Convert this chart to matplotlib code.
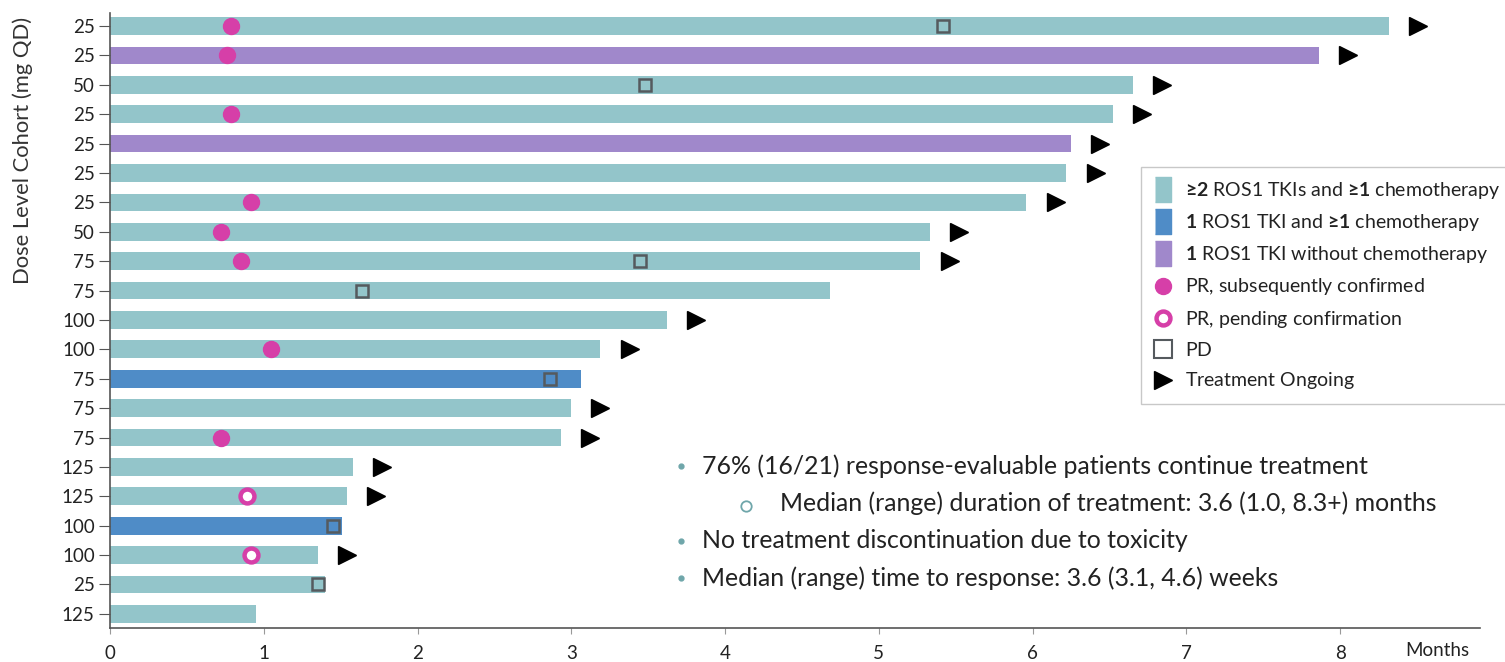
import matplotlib
matplotlib.use("Agg")
import matplotlib.pyplot as plt
from matplotlib.lines import Line2D
import numpy as np

plt.rcParams['font.family'] = ['Lato', 'DejaVu Sans']
plt.rcParams['mathtext.fontset'] = 'custom'
plt.rcParams['mathtext.rm'] = 'Lato'
plt.rcParams['mathtext.bf'] = 'Lato:bold'

# ---- data (top to bottom) ----
dose_labels = ["25", "25", "50", "25", "25", "25", "25", "50", "75", "75", "100",
               "100", "75", "75", "75", "125", "125", "100", "100", "25", "125"]
duration = [8.32, 7.86, 6.65, 6.52, 6.25, 6.22, 5.96, 5.33, 5.27, 4.68, 3.62,
            3.19, 3.06, 3.00, 2.93, 1.58, 1.54, 1.51, 1.35, 1.40, 0.95]
# group: 0 = >=2 TKIs & >=1 chemo, 1 = 1 TKI & >=1 chemo, 2 = 1 TKI without chemo
group = [0, 2, 0, 0, 2, 0, 0, 0, 0, 0, 0, 0, 1, 0, 0, 0, 0, 1, 0, 0, 0]
ongoing = [1, 1, 1, 1, 1, 1, 1, 1, 1, 0, 1, 1, 0, 1, 1, 1, 1, 0, 1, 0, 0]
pr_confirmed = [0.79, 0.76, None, 0.79, None, None, 0.92, 0.72, 0.85, None, None,
                1.05, None, None, 0.72, None, None, None, None, None, None]
pr_pending = [None] * 16 + [0.89, None, 0.92, None, None]
pd_time = [5.42, None, 3.48, None, None, None, None, None, 3.45, 1.64, None,
           None, 2.86, None, None, None, None, 1.45, None, 1.35, None]

group_colors = ["#93C5CA", "#4F8CC7", "#A088CB"]
group_names = [r"$\mathbf{≥2}$ ROS1 TKIs and $\mathbf{≥1}$ chemotherapy",
               r"$\mathbf{1}$ ROS1 TKI and $\mathbf{≥1}$ chemotherapy",
               r"$\mathbf{1}$ ROS1 TKI without chemotherapy"]
marker_names = [r"$\mathrm{PR}$, subsequently confirmed",
                r"$\mathrm{PR}$, pending confirmation",
                r"$\mathrm{PD}$",
                r"$\mathrm{Treatment}$ Ongoing"]
magenta = "#D63FA8"
pd_edge = "#555A5E"

fig = plt.figure(figsize=(15.05, 6.62), dpi=100)
ax = fig.add_axes([110 / 1505, 34 / 662, 1370 / 1505, 615 / 662])

y = np.arange(len(duration))
ax.barh(y, duration, height=0.6, color=[group_colors[g] for g in group], zorder=1)

arrow_gap = 0.19
for i in range(len(duration)):
    if pr_confirmed[i] is not None:
        ax.plot(pr_confirmed[i], i, 'o', ms=11.5, color=magenta, mec=magenta, zorder=3)
    if pr_pending[i] is not None:
        ax.plot(pr_pending[i], i, 'o', ms=10, mfc='white', mec=magenta, mew=3.2, zorder=3)
    if pd_time[i] is not None:
        ax.plot(pd_time[i], i, 's', ms=9, mfc='none', mec=pd_edge, mew=1.8, zorder=3)
    if ongoing[i]:
        ax.plot(duration[i] + arrow_gap, i, '>', ms=13, color='black', zorder=3)

ax.set_xlim(0, 8.91)
ax.set_ylim(20.48, -0.44)
ax.set_yticks(y)
ax.set_yticklabels(dose_labels, fontsize=13.5)
ax.set_xticks(range(0, 9))
ax.set_xticklabels([str(v) for v in range(0, 9)], fontsize=13.5)
for s in ['top', 'right']:
    ax.spines[s].set_visible(False)
for s in ['left', 'bottom']:
    ax.spines[s].set_color('#555555')
    ax.spines[s].set_linewidth(1.2)
ax.tick_params(axis='y', length=8, color='#555555', pad=3, labelcolor='#222222')
ax.tick_params(axis='x', length=4, color='#999999', pad=8, labelcolor='#222222')
ax.set_ylabel("Dose Level Cohort (mg QD)", fontsize=15.8, color='#333333')
ax.yaxis.set_label_coords(-0.0562, 0.777)

fig.text(1405 / 1505, 1 - 651 / 662, "Months", fontsize=13.5, va='center', ha='left', color='#222222')

# legend
bar_marker = [(-0.32, -0.5), (0.32, -0.5), (0.32, 0.5), (-0.32, 0.5)]
handles = [Line2D([], [], ls='none', marker=bar_marker, ms=18, color=c, mec=c)
           for c in group_colors]
handles += [
    Line2D([], [], ls='none', marker='o', ms=11.5, color=magenta),
    Line2D([], [], ls='none', marker='o', ms=10, mfc='white', mec=magenta, mew=3.2),
    Line2D([], [], ls='none', marker='s', ms=13, mfc='none', mec=pd_edge, mew=1.5),
    Line2D([], [], ls='none', marker='>', ms=13, color='black'),
]
labels = group_names + marker_names
leg = fig.legend(handles, labels, loc='upper left',
                 bbox_to_anchor=(1141 / 1505, 1 - 167 / 662), fontsize=14,
                 frameon=True, fancybox=False, edgecolor='#BBBBBB',
                 handlelength=1.0, handletextpad=0.6, labelspacing=0.58,
                 borderpad=0.65, borderaxespad=0)
leg.get_frame().set_linewidth(1.0)
for t in leg.get_texts():
    t.set_color('#222222')

# annotation text
bullet_color = "#6FA6AA"
txt = '#222222'
fs = 17.9
bx, tx = 681 / 1505, 702 / 1505
rows = [466, 541, 578]
lines = ["76% (16/21) response-evaluable patients continue treatment",
         "No treatment discontinuation due to toxicity",
         "Median (range) time to response: 3.6 (3.1, 4.6) weeks"]
for r, s in zip(rows, lines):
    fig.add_artist(Line2D([bx], [1 - r / 662], ls='none', marker='o', ms=3.5,
                          color=bullet_color, transform=fig.transFigure))
    fig.text(tx, 1 - r / 662, s, fontsize=fs, color=txt, va='center')
fig.add_artist(Line2D([746 / 1505], [1 - 506 / 662], ls='none', marker='o', ms=7.5,
                      mfc='none', mec=bullet_color, mew=1.3, transform=fig.transFigure))
fig.text(780 / 1505, 1 - 503 / 662, "Median (range) duration of treatment: 3.6 (1.0, 8.3+) months",
         fontsize=fs, color=txt, va='center')

fig.savefig("out.png", dpi=100)
